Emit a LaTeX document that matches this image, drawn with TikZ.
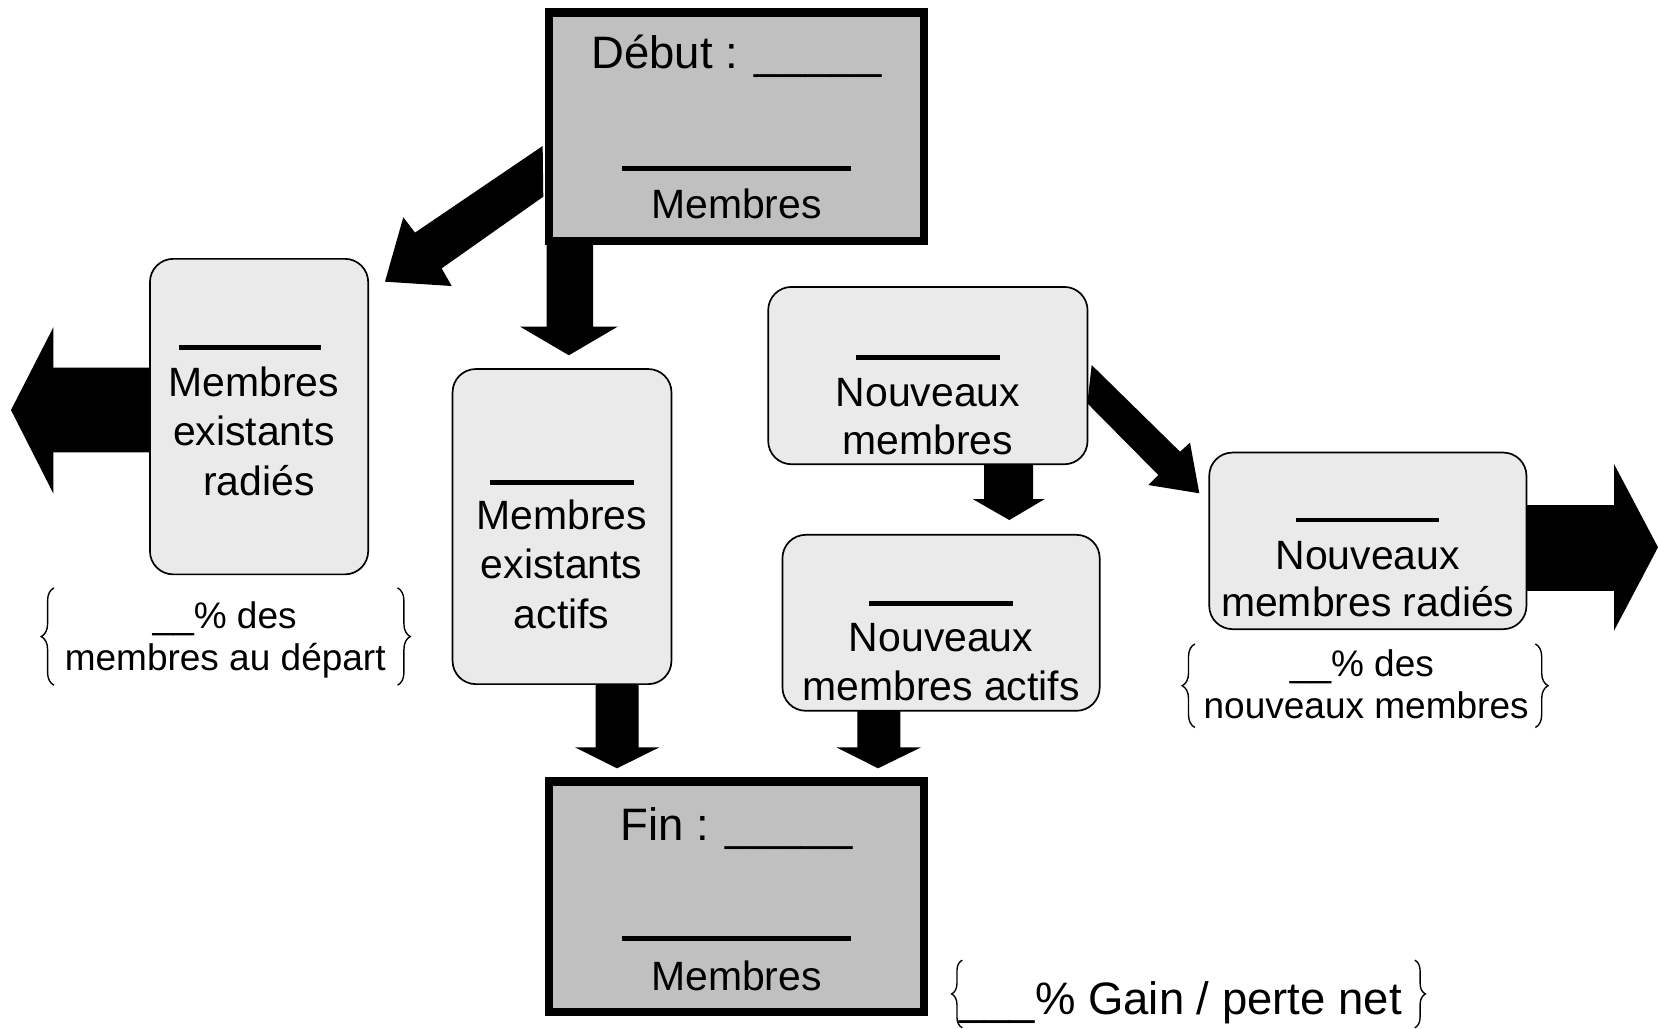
\documentclass[tikz,border=0pt]{standalone}
\usepackage{fontspec}
\setmainfont{Liberation Sans}
\usetikzlibrary{decorations.pathreplacing}
\definecolor{boxgray}{HTML}{C0C0C0}
\definecolor{softgray}{HTML}{EAEAEA}
\begin{document}
\begin{tikzpicture}[x=1pt,y=-1pt,
  thickbox/.style={draw=black, line width=8pt, fill=boxgray, rectangle, inner sep=0pt},
  softbox/.style={draw=black, line width=1.6pt, fill=softgray, rectangle, rounded corners=22pt, inner sep=0pt},
  blockarrow/.style={fill=black, draw=none},
  blankrule/.style={line width=4.5pt},
  lbl/.style={anchor=base, inner sep=0pt, font=\fontsize{38.7}{46}\selectfont},
  ttl/.style={anchor=base, inner sep=0pt, font=\fontsize{43}{50}\selectfont},
  note/.style={anchor=base, inner sep=0pt, font=\fontsize{35}{42}\selectfont},
  curly/.style={decorate, decoration={brace, amplitude=#1}, line width=1.3pt},
  curly/.default=12pt
]
\useasboundingbox[fill=white] (0,0) rectangle (1568,973);

% ---------- block arrows ----------
% Debut -> radies (diagonal)
\fill[blockarrow] (513.2,138.1) -- (392.5,220) -- (381.4,205.5) -- (364.1,266.4)
  -- (427.2,270.5) -- (417.7,253.8) -- (513.8,186) -- cycle;
% Debut -> existants actifs
\fill[blockarrow] (517,230) -- (517,309) -- (492,309) -- (538,336) -- (584,309)
  -- (561,309) -- (561,230) -- cycle;
% radies -> out (left)
\fill[blockarrow] (143,347.7) -- (50.4,347.7) -- (50.4,309.6) -- (10.4,387.8)
  -- (50.4,466.6) -- (50.4,427.8) -- (143,427.8) -- cycle;
% nouveaux -> nouveaux radies (diagonal)
\fill[blockarrow] (1032.4,345.2) -- (1116,427.2) -- (1125.4,418.6) -- (1134.2,466.5)
  -- (1086,458.7) -- (1095.4,449.2) -- (1028.3,381.4) -- cycle;
% nouveaux -> nouveaux actifs
\fill[blockarrow] (930.6,438) -- (930.6,472) -- (920,472) -- (954.5,491.8)
  -- (988,472) -- (977,472) -- (977,438) -- cycle;
% nouveaux radies -> out (right)
\fill[blockarrow] (1442,477.6) -- (1526.4,477.6) -- (1526.4,438.8) -- (1568,517.6)
  -- (1526.4,596.5) -- (1526.4,558.9) -- (1442,558.9) -- cycle;
% existants actifs -> fin
\fill[blockarrow] (563.3,646) -- (563.3,706.8) -- (543.8,706.8) -- (583.5,726.6)
  -- (623.5,706.8) -- (604,706.8) -- (604,646) -- cycle;
% nouveaux actifs -> fin
\fill[blockarrow] (810.8,671) -- (810.8,706.8) -- (791,706.8) -- (830.4,726.6)
  -- (871,706.8) -- (851.5,706.8) -- (851.5,671) -- cycle;

% ---------- boxes ----------
\node[thickbox, minimum width=355pt, minimum height=216pt] (debut) at (696.5,120) {};
\node[thickbox, minimum width=355pt, minimum height=218pt] (fin) at (696.5,848) {};
\node[softbox, minimum width=206.4pt, minimum height=298.4pt] (radies) at (245,394) {};
\node[softbox, minimum width=207pt, minimum height=298pt] (actifs) at (531.5,498) {};
\node[softbox, minimum width=302pt, minimum height=167.7pt] (nouv) at (877.5,355.2) {};
\node[softbox, minimum width=300pt, minimum height=166.4pt] (nouvact) at (890,589) {};
\node[softbox, minimum width=300pt, minimum height=167pt] (nouvrad) at (1293.6,511.5) {};

% ---------- Debut ----------
\node[ttl] (debutT) at (696.5,64.6) {Début : \_\_\_\_\_};
\draw[blankrule] (588,159.2) -- (805,159.2);
\node[lbl] (debutM) at (696.5,206.5) {Membres};

% ---------- Fin ----------
\node[ttl] (finT) at (696.5,794.4) {Fin : \_\_\_\_\_};
\draw[blankrule] (588,887.4) -- (805,887.4);
\node[lbl] (finM) at (696.5,936.3) {Membres};

% ---------- radies ----------
\draw[blankrule] (169.5,328.8) -- (304,328.8);
\node[lbl] (radL1) at (240,375) {Membres};
\node[lbl] (radL2) at (240,421) {existants};
\node[lbl] (radL3) at (245,469) {radiés};

% ---------- existants actifs ----------
\draw[blankrule] (463.4,456.5) -- (599.6,456.5);
\node[lbl] (actL1) at (531.2,501.2) {Membres};
\node[lbl] (actL2) at (531.2,547.5) {existants};
\node[lbl] (actL3) at (531.2,594.2) {actifs};

% ---------- nouveaux ----------
\draw[blankrule] (809.5,338) -- (945.7,338);
\node[lbl] (nouvL1) at (877.5,384) {Nouveaux};
\node[lbl] (nouvL2) at (877.5,429.7) {membres};

% ---------- nouveaux actifs ----------
\draw[blankrule] (822,570.6) -- (957.7,570.6);
\node[lbl] (nactL1) at (890,616.3) {Nouveaux};
\node[lbl] (nactL2) at (890,662) {membres actifs};

% ---------- nouveaux radies ----------
\draw[blankrule] (1225.7,491.8) -- (1361.2,491.8);
\node[lbl] (nradL1) at (1293.5,538.4) {Nouveaux};
\node[lbl] (nradL2) at (1293.5,583.2) {membres radiés};

% ---------- notes with braces ----------
\node[note] (noteA1) at (212.5,594.2) {\_\_\% des};
\node[note] (noteA2) at (213,634.3) {membres au départ};
\draw[curly] (51,648) -- (51,556);
\draw[curly] (376,556) -- (376,648);

\node[note] (noteE1) at (1288,640) {\_\_\% des};
\node[note] (noteE2) at (1292,679.5) {nouveaux membres};
\draw[curly] (1130,688) -- (1130,609);
\draw[curly] (1452,609) -- (1452,688);

\node[ttl] (gain) at (1116.5,959) {\_\_\_\% Gain / perte net};
\draw[curly=10pt] (910,972) -- (910,908);
\draw[curly=10pt] (1338,908) -- (1338,972);
\end{tikzpicture}
\end{document}
